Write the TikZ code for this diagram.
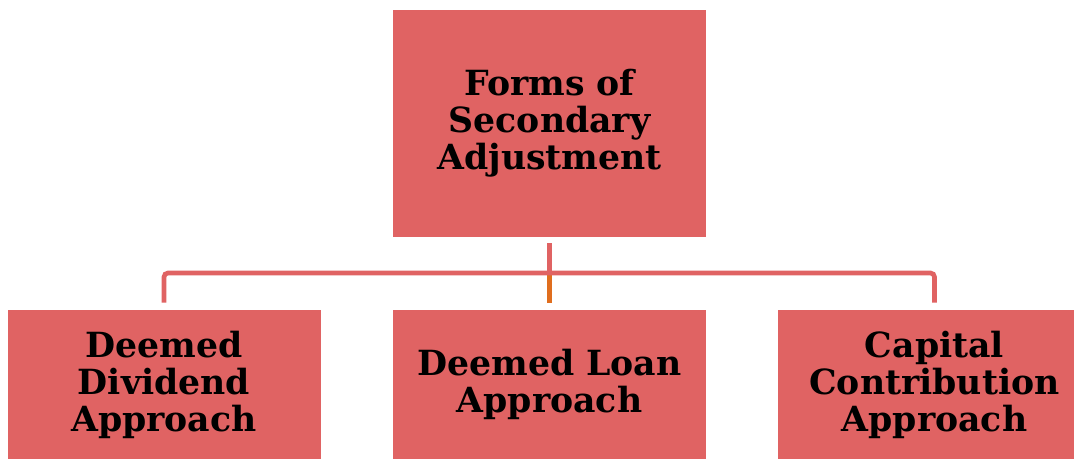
\documentclass[tikz,border=0pt]{standalone}
\usepackage{fontspec}
\setmainfont{DejaVu Serif}
\usepackage{tikz}
\usepackage{xcolor}
\definecolor{boxred}{RGB}{224,99,99}
\definecolor{linkorange}{RGB}{224,110,30}
\tikzset{
    form-box/.style = {fill=boxred, draw=none, rectangle, inner sep=0pt, minimum width=234.75pt, align=center, text=black, font=\bfseries\fontsize{26}{27.75}\selectfont},
    top-box/.style = {form-box, minimum height=170.25pt},
    bottom-box/.style = {form-box, minimum height=111.75pt},
    link/.style = {draw=boxred, line width=3.5pt, rounded corners=3pt},
}

\begin{document}
\begin{tikzpicture}[x=0.75pt, y=-0.75pt]
\useasboundingbox (0,0) rectangle (1074,459);
\clip (0,0) rectangle (1074,459);
\node [top-box] (forms) at (549.5,123.5) {Forms of\\Secondary\\Adjustment};
\node [bottom-box] (dividend) at (164,384.5) {Deemed\\Dividend\\Approach};
\node [bottom-box] (loan) at (549.5,384.5) {Deemed Loan\\Approach};
\node [bottom-box] (capital) at (934.5,384.5) {Capital\\Contribution\\Approach};
\coordinate (hub) at (549.5,273);
% links
\draw[link, draw=linkorange, rounded corners=0pt] (hub) -- ([yshift=5.25pt]loan.north);
\draw[link] ([yshift=-4.5pt]forms.south) -- (hub);
\draw[link] ([yshift=5.25pt]dividend.north) |- (hub) -| ([yshift=5.25pt]capital.north);
\end{tikzpicture}
\end{document}
